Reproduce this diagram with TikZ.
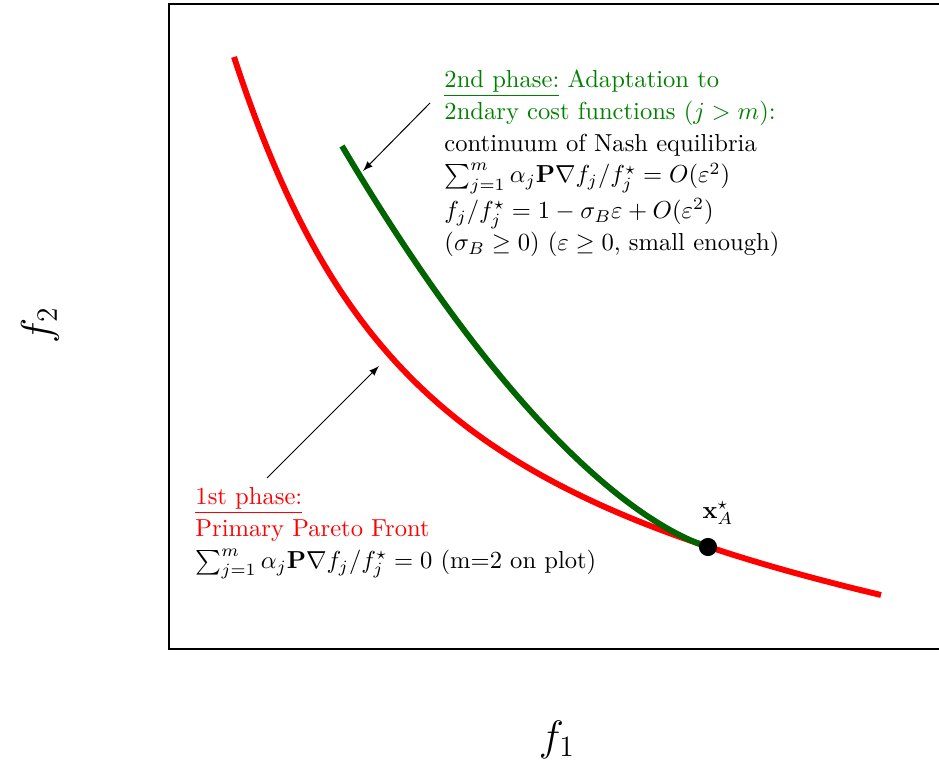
\documentclass[tikz,border=0pt]{standalone}
\usepackage{amsmath,amssymb,amsfonts}
\usepackage{bm}
\usetikzlibrary{arrows,positioning,calc}
\definecolor{pareto-red}{RGB}{255,0,0}
\definecolor{nash-green}{RGB}{0,100,0}
\definecolor{text-green}{RGB}{0,128,0}

\begin{document}
\begin{tikzpicture}[x=0.01429cm, y=-0.01429cm,
    front/.style={line width=2.4pt, pareto-red},
    nash/.style={line width=2.4pt, nash-green},
    note/.style={align=left, anchor=north west, inner sep=0pt},
    pointer/.style={->, >=latex, thin},
    axislabel/.style={font=\LARGE}]

    \useasboundingbox (0,0) rectangle (939,760);

    % Frame (open on the right)
    \draw[semithick] (939,4) -- (169,4) -- (169,649) -- (939,649);

    % Axis labels
    \node[axislabel] (f1) at (557,740) {$f_1$};
    \node[axislabel, rotate=90] (f2) at (40,325) {$f_2$};

    % Primary Pareto front
    \draw[front] (234,57) .. controls (340,380) and (482,500) .. (881,595);

    % Continuum of Nash equilibria
    \coordinate (xa) at (708,547);
    \draw[nash] (342,146) .. controls (529,462) and (661,532) .. (xa);

    % Split point
    \node[circle, fill=black, inner sep=0pt, minimum size=7.4pt] (xadot) at (xa) {};
    \node (xalabel) at (718,513) {$\mathbf{x}_A^\star$};

    % Phase notes
    \node[note] (p2) at (444,69) {%
        \textcolor{text-green}{\underline{2nd phase:} Adaptation to}\\[1pt]
        \textcolor{text-green}{2ndary cost functions ($j>m$):}\\[1pt]
        continuum of Nash equilibria\\[1pt]
        $\sum_{j=1}^m \alpha_j \mathbf{P}\nabla f_j/f_j^\star = O(\varepsilon^2)$\\[1pt]
        $f_j/f_j^\star = 1-\sigma_B\varepsilon + O(\varepsilon^2)$\\[1pt]
        ($\sigma_B \geq 0$) ($\varepsilon \geq 0$, small enough)};

    \node[note] (p1) at (195,487) {%
        \textcolor{pareto-red}{\underline{1st phase:}}\\[1pt]
        \textcolor{pareto-red}{Primary Pareto Front}\\[1pt]
        $\sum_{j=1}^m \alpha_j \mathbf{P}\nabla f_j/f_j^\star = 0$ (m=2 on plot)};

    % Arrows
    \coordinate (p2tail) at (430,103);
    \coordinate (p2tip) at (363,171);
    \coordinate (p1tail) at (267,478);
    \coordinate (p1tip) at (379,366);
    \draw[pointer] (p2tail) -- (p2tip);
    \draw[pointer] (p1tail) -- (p1tip);
\end{tikzpicture}
\end{document}
